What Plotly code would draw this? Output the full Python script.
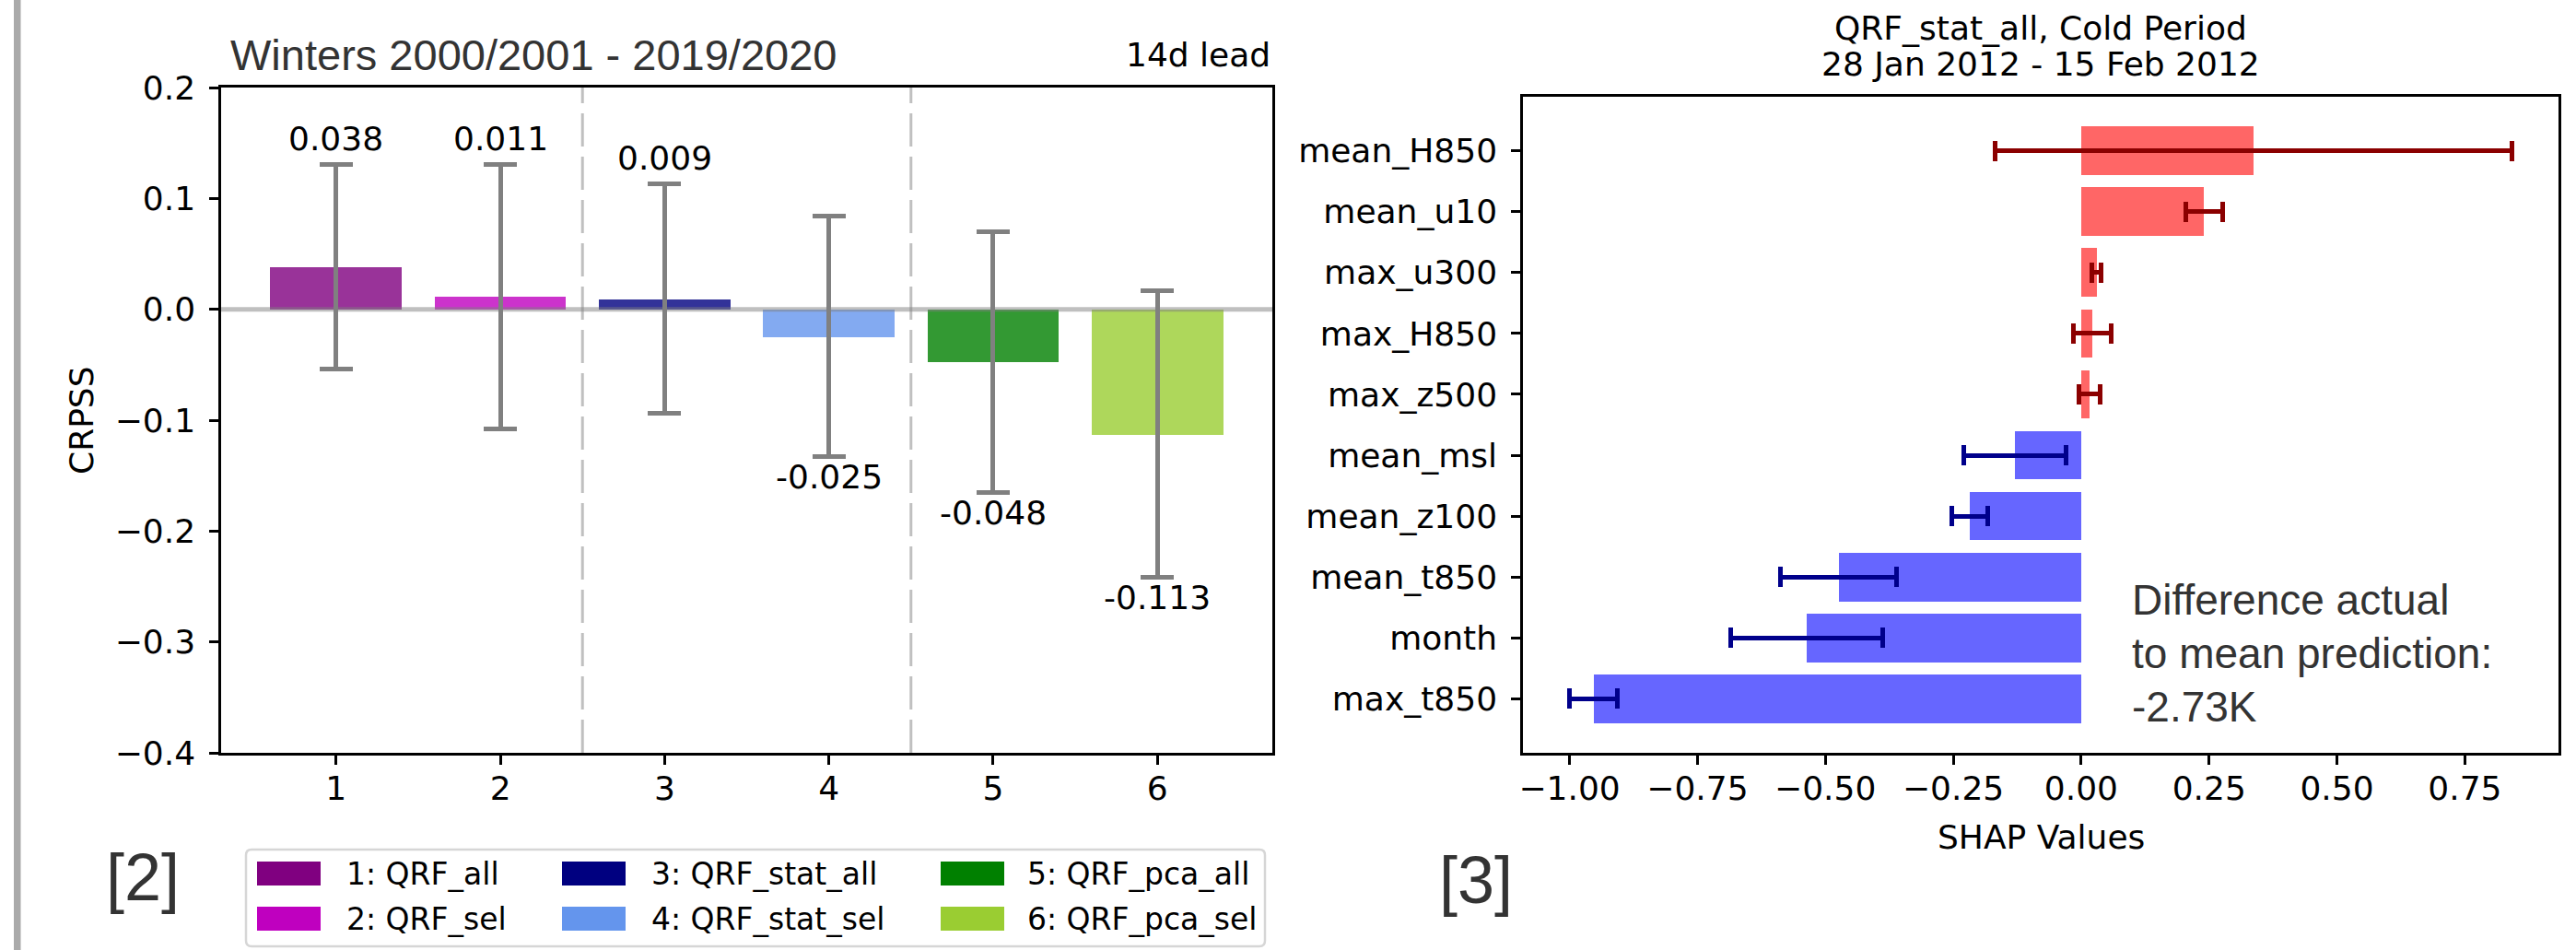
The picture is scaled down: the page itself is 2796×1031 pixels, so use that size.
import plotly.graph_objects as go

W, H = 2796, 1031

# ---------------- data: left panel (CRPSS) ----------------
models = ["1: QRF_all", "2: QRF_sel", "3: QRF_stat_all", "4: QRF_stat_sel", "5: QRF_pca_all", "6: QRF_pca_sel"]
model_ids = [1, 2, 3, 4, 5, 6]
crpss = [0.038, 0.011, 0.009, -0.025, -0.048, -0.113]
crpss_upper = [0.131, 0.131, 0.113, 0.084, 0.070, 0.017]
crpss_lower = [-0.054, -0.108, -0.094, -0.133, -0.165, -0.242]
model_colors = ["#800080", "#bf00bf", "#000080", "#6495ed", "#008000", "#9acd32"]
group_separators = [2.5, 4.5]
crpss_ticks = [-0.4, -0.3, -0.2, -0.1, 0.0, 0.1, 0.2]
crpss_ticktext = ["\u22120.4", "\u22120.3", "\u22120.2", "\u22120.1", "0.0", "0.1", "0.2"]

# ---------------- data: right panel (SHAP) ----------------
features = ["mean_H850", "mean_u10", "max_u300", "max_H850", "max_z500",
            "mean_msl", "mean_z100", "mean_t850", "month", "max_t850"]
shap_vals = [0.337, 0.240, 0.030, 0.022, 0.016, -0.129, -0.217, -0.474, -0.536, -0.953]
shap_err = [0.505, 0.036, 0.0085, 0.037, 0.021, 0.100, 0.035, 0.1135, 0.149, 0.047]
shap_ticks = [-1.0, -0.75, -0.5, -0.25, 0.0, 0.25, 0.5, 0.75]
shap_ticktext = ["\u22121.00", "\u22120.75", "\u22120.50", "\u22120.25", "0.00", "0.25", "0.50", "0.75"]
diff_text = ["Difference actual", "to mean prediction:", "-2.73K"]


def px_x(p):
    return p / W


def px_y(p):
    return 1 - p / H


def rgba(hexc, a):
    h = hexc.lstrip("#")
    r, g, b = int(h[0:2], 16), int(h[2:4], 16), int(h[4:6], 16)
    return f"rgba({r},{g},{b},{a})"


DJ = "DejaVu Sans"
LS = "Liberation Sans"

fig = go.Figure()

# left bars
fig.add_trace(go.Bar(
    x=model_ids, y=crpss, width=0.8,
    marker=dict(color=[rgba(c, 0.8) for c in model_colors], line=dict(width=0)),
    error_y=dict(type="data", symmetric=False,
                 array=[u - v for u, v in zip(crpss_upper, crpss)],
                 arrayminus=[v - l for v, l in zip(crpss, crpss_lower)],
                 color="#808080", thickness=5, width=18),
    xaxis="x", yaxis="y", showlegend=False, hoverinfo="skip"))

# right bars: positive and negative
pos = [(f, v, e) for f, v, e in zip(features, shap_vals, shap_err) if v >= 0]
neg = [(f, v, e) for f, v, e in zip(features, shap_vals, shap_err) if v < 0]
for grp, col, ecol in [(pos, "rgba(255,0,0,0.6)", "#8b0000"), (neg, "rgba(0,0,255,0.6)", "#00008b")]:
    fig.add_trace(go.Bar(
        y=[g[0] for g in grp], x=[g[1] for g in grp], orientation="h", width=0.8,
        marker=dict(color=col, line=dict(width=0)),
        error_x=dict(type="data", array=[g[2] for g in grp], color=ecol, thickness=5, width=11),
        xaxis="x2", yaxis="y2", showlegend=False, hoverinfo="skip"))

axis_common = dict(showline=True, mirror=True, linecolor="black", linewidth=2.5,
                   ticks="outside", ticklen=10, tickwidth=2.5, tickcolor="black",
                   showgrid=False, zeroline=False, automargin=False,
                   tickfont=dict(family=DJ, size=36, color="black"))

fig.update_layout(
    width=W, height=H, margin=dict(l=0, r=0, t=0, b=0, pad=0, autoexpand=False),
    paper_bgcolor="white", plot_bgcolor="white", showlegend=False, bargap=0,
    xaxis=dict(domain=[px_x(240), px_x(1381)], range=[0.3, 6.7], anchor="y",
               tickvals=model_ids, ticktext=[str(m) for m in model_ids],
               ticklabelstandoff=-5, **axis_common),
    yaxis=dict(domain=[px_y(817), px_y(95)], range=[-0.4, 0.2], anchor="x",
               tickvals=crpss_ticks, ticktext=crpss_ticktext,
               ticklabelstandoff=8, **axis_common),
    xaxis2=dict(domain=[px_x(1653), px_x(2777)], range=[-1.091, 0.933], anchor="y2",
                tickvals=shap_ticks, ticktext=shap_ticktext,
                ticklabelstandoff=-5, **axis_common),
    yaxis2=dict(domain=[px_y(817), px_y(105)], type="category",
                categoryorder="array", categoryarray=features[::-1],
                range=[-0.89, 9.89], anchor="x2", ticklabelstandoff=8, **axis_common),
)

shapes = []
# left gray bar
shapes.append(dict(type="rect", xref="paper", yref="paper", x0=px_x(15), x1=px_x(22.5),
                   y0=0, y1=1, fillcolor="#aaaaaa", line=dict(width=0), layer="above"))
# group separators
for s in group_separators:
    shapes.append(dict(type="line", xref="x", yref="y domain", x0=s, x1=s, y0=0, y1=1,
                       line=dict(color="#c0c0c0", width=3, dash="36px,11px"), layer="below"))
# zero line
shapes.append(dict(type="line", xref="x domain", yref="y", x0=0, x1=1, y0=0, y1=0,
                   line=dict(color="rgba(128,128,128,0.5)", width=5), layer="above"))

# legend box (rounded)
lx0, lx1, ly0, ly1, r = 267, 1373, 922, 1027, 6
path = (f"M {px_x(lx0 + r)} {px_y(ly0)} L {px_x(lx1 - r)} {px_y(ly0)} "
        f"Q {px_x(lx1)} {px_y(ly0)} {px_x(lx1)} {px_y(ly0 + r)} "
        f"L {px_x(lx1)} {px_y(ly1 - r)} Q {px_x(lx1)} {px_y(ly1)} {px_x(lx1 - r)} {px_y(ly1)} "
        f"L {px_x(lx0 + r)} {px_y(ly1)} Q {px_x(lx0)} {px_y(ly1)} {px_x(lx0)} {px_y(ly1 - r)} "
        f"L {px_x(lx0)} {px_y(ly0 + r)} Q {px_x(lx0)} {px_y(ly0)} {px_x(lx0 + r)} {px_y(ly0)} Z")
shapes.append(dict(type="path", xref="paper", yref="paper", path=path,
                   line=dict(color="#d6d6d6", width=2.5), fillcolor="rgba(255,255,255,0.8)"))

col_sw_x = [279, 610, 1021]
col_tx_x = [374, 705, 1113]
row_y = [948, 997]
annotations = []
for i, (name, col) in enumerate(zip(models, model_colors)):
    c, rr = i // 2, i % 2
    yc = row_y[rr]
    shapes.append(dict(type="rect", xref="paper", yref="paper",
                       x0=px_x(col_sw_x[c]), x1=px_x(col_sw_x[c] + 69),
                       y0=px_y(yc + 13), y1=px_y(yc - 13),
                       fillcolor=col, line=dict(width=0)))
    annotations.append(dict(xref="paper", yref="paper", x=px_x(col_tx_x[c]), y=px_y(yc),
                            xanchor="left", yanchor="middle", showarrow=False, text=name,
                            font=dict(family=DJ, size=33, color="black")))

# value labels
for xi, v, lo, hi in zip(model_ids, crpss, crpss_lower, crpss_upper):
    if v >= 0:
        annotations.append(dict(x=xi, y=hi, xref="x", yref="y", yshift=28, yanchor="middle",
                                showarrow=False, text=f"{v:.3f}",
                                font=dict(family=DJ, size=36, color="black")))
    else:
        annotations.append(dict(x=xi, y=lo, xref="x", yref="y", yshift=-22, yanchor="middle",
                                showarrow=False, text=f"{v:.3f}",
                                font=dict(family=DJ, size=36, color="black")))

# titles and labels
annotations += [
    dict(xref="paper", yref="paper", x=px_x(248), y=px_y(60), xanchor="left", yanchor="middle",
         showarrow=False, text="Winters 2000/2001 - 2019/2020",
         font=dict(family=LS, size=47, color="#333333")),
    dict(xref="paper", yref="paper", x=px_x(1381), y=px_y(60), xanchor="right", yanchor="middle",
         showarrow=False, text="14d lead", font=dict(family=DJ, size=36, color="black")),
    dict(xref="paper", yref="paper", x=px_x(88), y=px_y(456), xanchor="center", yanchor="middle",
         showarrow=False, text="CRPSS", textangle=-90, font=dict(family=DJ, size=36, color="black")),
    dict(xref="paper", yref="paper", x=px_x(2215), y=px_y(30), xanchor="center", yanchor="middle",
         showarrow=False, text="QRF_stat_all, Cold Period", font=dict(family=DJ, size=36, color="black")),
    dict(xref="paper", yref="paper", x=px_x(2215), y=px_y(70), xanchor="center", yanchor="middle",
         showarrow=False, text="28 Jan 2012 - 15 Feb 2012", font=dict(family=DJ, size=36, color="black")),
    dict(xref="paper", yref="paper", x=px_x(2215), y=px_y(908), xanchor="center", yanchor="middle",
         showarrow=False, text="SHAP Values", font=dict(family=DJ, size=36, color="black")),
    dict(xref="paper", yref="paper", x=px_x(155), y=px_y(952), xanchor="center", yanchor="middle",
         showarrow=False, text="[2]", font=dict(family=LS, size=72, color="#333333")),
    dict(xref="paper", yref="paper", x=px_x(1602), y=px_y(955), xanchor="center", yanchor="middle",
         showarrow=False, text="[3]", font=dict(family=LS, size=72, color="#333333")),
]
for k, line in enumerate(diff_text):
    annotations.append(dict(xref="paper", yref="paper", x=px_x(2312), y=px_y(651 + 58 * k),
                            xanchor="left", yanchor="middle", showarrow=False, text=line,
                            font=dict(family=LS, size=46, color="#333333")))

fig.update_layout(shapes=shapes, annotations=annotations)
fig.write_html("out.html", config={"displayModeBar": False},
               post_script="document.body.style.margin='0px';")
